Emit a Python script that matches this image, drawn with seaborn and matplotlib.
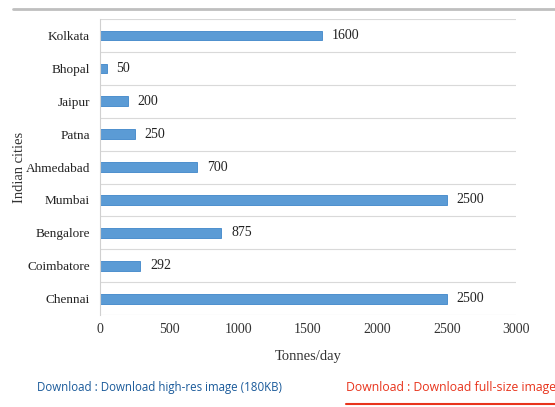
import matplotlib
matplotlib.use("Agg")
import matplotlib.pyplot as plt
import seaborn as sns
import pandas as pd
import numpy as np
from matplotlib.lines import Line2D

cities = ["Kolkata", "Bhopal", "Jaipur", "Patna", "Ahmedabad", "Mumbai", "Bengalore", "Coimbatore", "Chennai"]
tonnes = [1600, 50, 200, 250, 700, 2500, 875, 292, 2500]
xticks = [0, 500, 1000, 1500, 2000, 2500, 3000]

df = pd.DataFrame({"city": cities, "tonnes": tonnes})

sns.set_style("white")
plt.rcParams['font.family'] = ['Liberation Serif', 'DejaVu Serif']

fig = plt.figure(figsize=(5.55, 4.07), dpi=100)
ax = fig.add_axes([0.180, 0.226, 0.750, 0.727])

sns.barplot(data=df, x="tonnes", y="city", orient="h", color="#5b9bd5",
            width=0.3, ax=ax, edgecolor="#3f86c9", linewidth=0.6, saturation=1)

n = len(cities)
ax.set_xlim(0, 3000)
ax.set_ylim(n - 0.5, -0.5)
ax.set_xticks(xticks)
ax.set_xticklabels([str(t) for t in xticks], fontsize=10, color="#333333")
ax.set_yticks(range(n))
ax.set_yticklabels(cities, fontsize=9.5, color="#222222")
ax.set_yticks(np.arange(-0.5, n, 1.0), minor=True)
ax.grid(True, which="minor", axis="y", color="#d9d9d9", linewidth=0.8)
ax.grid(False, which="major")
ax.tick_params(axis="both", which="both", length=0)
ax.tick_params(axis="y", pad=7)
ax.tick_params(axis="x", pad=6)

for s in ["top", "right", "bottom"]:
    ax.spines[s].set_visible(False)
ax.spines["left"].set_color("#d0d0d0")
ax.spines["left"].set_linewidth(0.8)

for i, v in enumerate(tonnes):
    ax.text(v + 70, i, str(v), va="center", ha="left", fontsize=10, color="#222222")

ax.set_xlabel("Tonnes/day", fontsize=10.5, color="#333333", labelpad=10)
ax.set_ylabel("Indian cities", fontsize=10.5, color="#333333", labelpad=0)

# top gray rule
fig.add_artist(Line2D([13/555, 1.0], [1 - 9/407, 1 - 9/407], color="#bfbfbf", linewidth=2))

fig.text(37/555, 1 - 388/407, "Download : Download high-res image (180KB)",
         fontsize=8.3, color="#1a5a9a", family=["Open Sans", "DejaVu Sans"], va="center")
fig.text(346/555, 1 - 388/407, "Download : Download full-size image",
         fontsize=8.8, color="#e8341c", family=["Open Sans", "DejaVu Sans"], va="center")
fig.add_artist(Line2D([346/555, 1.0], [1 - 404/407, 1 - 404/407], color="#e8341c", linewidth=1.5))

fig.savefig("out.png", dpi=100)
